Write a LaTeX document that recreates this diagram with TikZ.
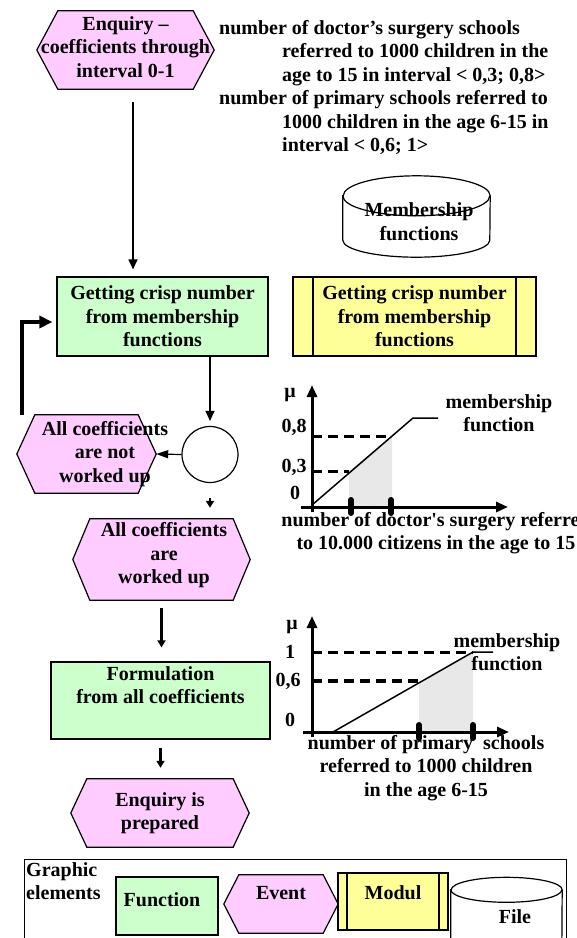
\documentclass[tikz,border=0pt]{standalone}
\usepackage{fontspec}
\setmainfont{Liberation Serif}
\usetikzlibrary{arrows.meta,backgrounds,calc}

\definecolor{evpink}{RGB}{255,204,255}
\definecolor{fngreen}{RGB}{204,255,204}
\definecolor{mdyellow}{RGB}{255,255,153}
\definecolor{areagray}{RGB}{232,232,232}

\begin{document}
\begin{tikzpicture}[x=1pt,y=-1pt,>={Triangle[length=10pt,width=9pt]},
    txt/.style={font=\fontsize{20}{23.5}\selectfont\bfseries,align=center,inner sep=0pt},
    func/.style={txt,draw,fill=fngreen,line width=1.2pt},
    event/.style={inner sep=0pt},
    file/.style={inner sep=0pt},
    modul/.style={txt,draw,fill=mdyellow,line width=1.2pt,
        path picture={\draw[line width=1.2pt]
            ([xshift=#1]path picture bounding box.north west) -- ([xshift=#1]path picture bounding box.south west)
            ([xshift=-#1]path picture bounding box.north east) -- ([xshift=-#1]path picture bounding box.south east);}},
    modul/.default=20pt,
    flow/.style={->,line width=1.2pt},
    stub/.style={-{Triangle[length=7pt,width=8pt]},line width=2.2pt},
    back/.style={-{Triangle[length=13pt,width=12pt]},line width=3.5pt},
    axisline/.style={-{Triangle[length=12pt,width=10pt]},line width=3pt},
    cutline/.style={line width=3pt,dash pattern=on 10pt off 6pt},
    mf/.style={line width=1.5pt},
    fuzzmark/.style={line width=6pt,line cap=round}]
\useasboundingbox (0,0) rectangle (577,938);

% process chain
\node[event,minimum width=135pt,minimum height=78pt,
    label={[txt,yshift=3pt]center:{Enquiry –\\coefficients through\\interval 0-1}}] (enq) at (125.5,50) {};
\node[txt,align=left,anchor=north west] (spec) at (219,20) {number of doctor’s surgery schools\\
    \hspace*{63pt}referred to 1000 children in the\\
    \hspace*{63pt}age to 15 in interval < 0,3; 0,8>\\
    number of primary schools referred to\\
    \hspace*{63pt}1000 children in the age 6-15 in\\
    \hspace*{63pt}interval < 0,6; 1>};
\node[file,minimum width=147pt,minimum height=44pt,
    label={[txt,xshift=2.5pt,yshift=-3.5pt]center:{Membership\\functions}}] (memb) at (416.5,218) {};
\node[func,minimum width=211pt,minimum height=79pt] (crisp) at (162.5,316.5) {Getting crisp number\\from membership\\functions};
\node[modul,minimum width=243pt,minimum height=79pt] (crispm) at (414.5,316.5) {Getting crisp number\\from membership\\functions};
\node[draw,circle,line width=1.2pt,minimum size=56pt,inner sep=0pt] (conn) at (210,454.5) {};
\node[event,minimum width=103pt,minimum height=78pt,
    label={[txt,xshift=18.5pt]center:{All coefficients\\are not\\worked up}}] (notw) at (86.5,454) {};
\node[event,minimum width=143pt,minimum height=81pt,
    label={[txt,xshift=2.5pt,yshift=4pt]center:{All coefficients\\are\\worked up}}] (work) at (161.5,559.5) {};
\node[func,minimum width=219pt,minimum height=77pt] (form) at (160.5,700.5) {Formulation\\from all coefficients\\\strut};
\node[event,minimum width=146pt,minimum height=68pt,
    label={[txt]center:{Enquiry is\\prepared}}] (ready) at (160,813) {};

\coordinate (a) at ($(enq.south)+(7.5,13)$);
\draw[flow,shorten >=7pt] (a) -- (a |- crisp.north);
\draw[flow,shorten >=5pt] (crisp.south -| conn) -- (conn.north);
\draw[flow,-{Triangle[length=12pt,width=8pt]}] (conn.west) -- ([xshift=18pt]notw.east);
\draw[stub,shorten <=15pt,shorten >=11pt] (conn.south) -- (conn.south |- work.north);
\draw[stub,shorten <=8pt,shorten >=14pt] (work.south) -- (work.south |- form.north);
\draw[stub,shorten <=8pt,shorten >=11pt] (form.south) -- (form.south |- ready.north);
\draw[back,shorten >=4pt] ([xshift=-13pt]notw.north west) |- ([yshift=-5.5pt]crisp.west);

% first membership function
\fill[areagray] (349,507) -- (349,471) -- (392,436) -- (392,507) -- cycle;
\draw[axisline] (301,507) -- (508,507);
\draw[axisline] (312,512) -- (312,385);
\draw[cutline] (312,436) -- (392,436);
\draw[cutline] (312,471) -- (349,471);
\draw[mf] (312,505) -- (413,418) -- (438,418);
\draw[fuzzmark] (351,500) -- (351,513);
\draw[fuzzmark] (391,500) -- (391,513);
\path (290,395) node[txt] (mu1) {μ}
    (294,427) node[txt] (h08) {0,8}
    (294,467) node[txt] (h03) {0,3}
    (295,493) node[txt] (h0a) {0}
    (499,413) node[txt] (mf1) {membership\\function}
    (436,533) node[txt] (cap1) {number of doctor\textquotesingle s surgery referred\\to 10.000 citizens in the age to 15};

% second membership function
\fill[areagray] (419,732) -- (419,683) -- (473,652) -- (473,732) -- cycle;
\draw[axisline] (303,732) -- (509,732);
\draw[axisline] (312,737) -- (312,616);
\draw[cutline] (312,652) -- (473,652);
\draw[cutline,line width=4.5pt] (312,681) -- (419,681);
\draw[mf] (333,732) -- (473,652) -- (493,652);
\draw[fuzzmark] (419,725) -- (419,738);
\draw[fuzzmark] (473,725) -- (473,738);
\path (292,627) node[txt] (mu2) {μ}
    (290,652) node[txt] (h1) {1}
    (288,681) node[txt] (h06) {0,6}
    (290,720) node[txt] (h0b) {0}
    (507,652) node[txt] (mf2) {membership\\function}
    (426,768) node[txt] (cap2) {number of primary\ \ schools\\referred to 1000 children\\in the age 6-15};

% legend
\draw[line width=1pt] (24,945) -- (24,859) -- (566,859) -- (566,945);
\node[txt,align=left,anchor=north west] (gr) at (26,862) {Graphic\\elements};
\node[func,minimum width=102pt,minimum height=58pt,
    label={[txt,xshift=-5pt,yshift=6pt]center:Function}] (lfn) at (167,906) {};
\node[event,minimum width=84pt,minimum height=58pt,
    label={[txt,yshift=11pt]center:Event}] (lev) at (281,904) {};
\node[modul=9pt,minimum width=110pt,minimum height=57pt,
    label={[txt,yshift=9pt]center:Modul}] (lmd) at (393,901.5) {};
\node[file,minimum width=111pt,minimum height=60pt,
    label={[txt,xshift=8.5pt,yshift=3pt]center:File}] (lfile) at (506.5,920) {};

% event and file outlines
\begin{scope}[on background layer]
\foreach \n/\t in {enq/21,notw/18,work/17,ready/16,lev/15}
    \draw[line width=1.2pt,fill=evpink] (\n.north west) -- (\n.north east) -- ([xshift=\t pt]\n.east)
        -- (\n.south east) -- (\n.south west) -- ([xshift=-\t pt]\n.west) -- cycle;
\foreach \n/\w/\r/\s in {memb/73.5/20/17,lfile/55.5/12.5/12.5}{
    \draw[line width=1.2pt,fill=white] (\n.north west) -- (\n.south west)
        arc[start angle=180,end angle=360,x radius=\w pt,y radius=\s pt] -- (\n.north east)
        arc[start angle=0,end angle=180,x radius=\w pt,y radius=\r pt] -- cycle;
    \draw[line width=1.2pt] (\n.north west) arc[start angle=180,end angle=360,x radius=\w pt,y radius=\r pt];
}
\end{scope}
\end{tikzpicture}
\end{document}
